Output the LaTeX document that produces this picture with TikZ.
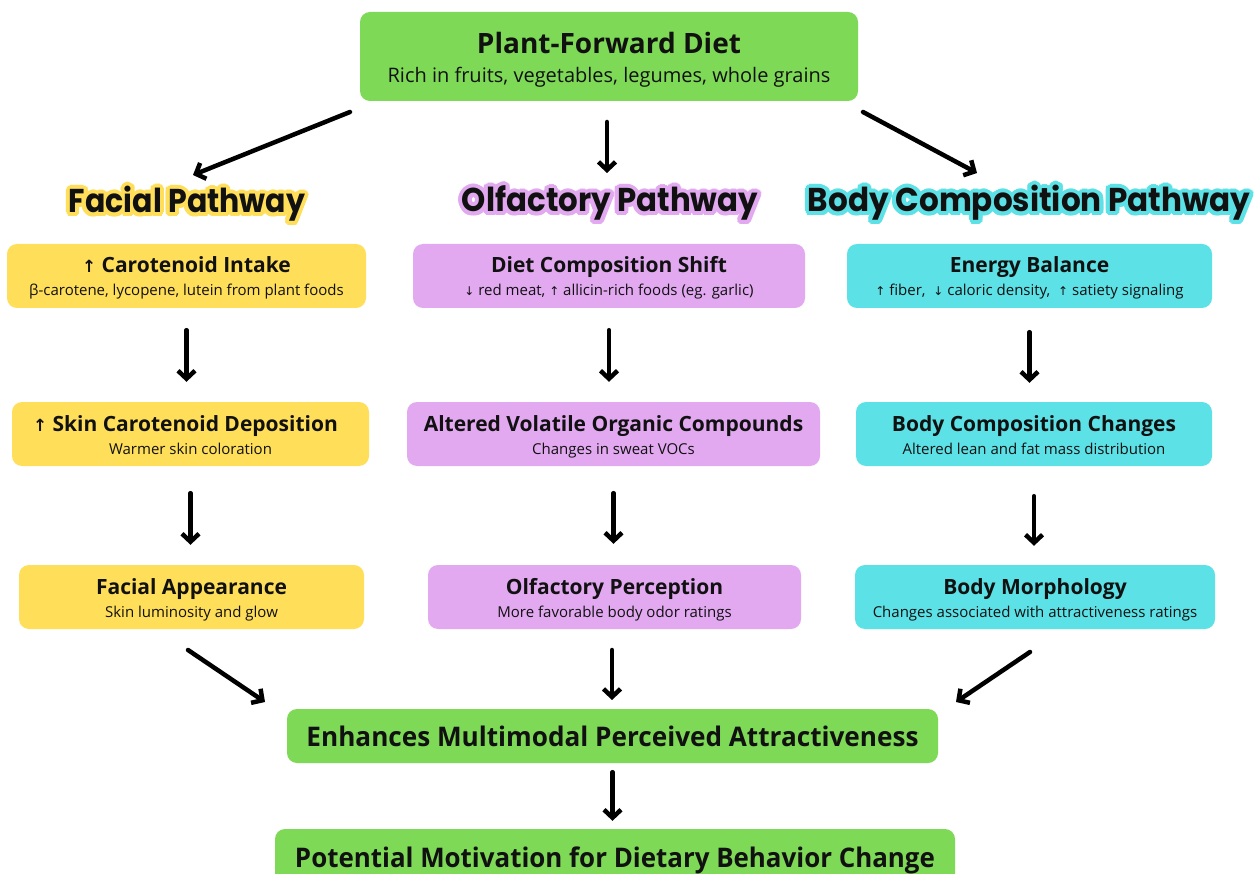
\documentclass[tikz,border=0pt]{standalone}
\usepackage{fontspec}
\setmainfont{Open Sans}
\newfontfamily\headfont{Poppins}
\newfontfamily\symf{DejaVu Sans}
\usetikzlibrary{arrows.meta}
\definecolor{cgreen}{HTML}{7ED957}
\definecolor{cyellow}{HTML}{FFDE59}
\definecolor{cpurple}{HTML}{E2A9F1}
\definecolor{ccyan}{HTML}{5CE1E6}
\definecolor{ink}{HTML}{111111}
\newcommand\up{{\symf\scalebox{0.8}{↑}}}
\newcommand\dn{{\symf\scalebox{0.8}{↓}}}
\newcommand\bup{{\symf\bfseries\scalebox{0.8}{↑}}}
\newcommand\fitw[2]{\resizebox{#1}{\height}{#2}}
\tikzset{
  box/.style={rounded corners=10pt, inner sep=0pt, minimum height=64pt},
  fbox/.style={box, fill=cyellow},
  obox/.style={box, fill=cpurple},
  bbox/.style={box, fill=ccyan},
  gbox/.style={box, fill=cgreen},
  ttl/.style={anchor=base, inner sep=0pt, text=ink, font=\bfseries\fontsize{21}{24}\selectfont},
  sub/.style={anchor=base, inner sep=0pt, text=ink, font=\fontsize{15}{18}\selectfont},
  head/.style={anchor=base, inner sep=0pt, text=ink, font=\headfont\bfseries\fontsize{33}{36}\selectfont},
  btxt/.style={anchor=base, inner sep=0pt, text=ink, font=\bfseries\fontsize{27}{30}\selectfont},
  arr/.style={line width=4.5pt, line cap=round, line join=round, -{Straight Barb[length=8pt,width=17pt]}}
}
% name, x, y, colour, text
\newcommand\headline[5]{%
  \foreach \a in {0,15,...,345}{\node[head, text=#4] at ([shift={(\a:4pt)}]#2,#3) {#5};}
  \node[head] (#1) at (#2,#3) {#5};}
\begin{document}
\begin{tikzpicture}[x=1pt,y=-1pt]
\useasboundingbox (0,0) rectangle (1258,874);
\clip (0,0) rectangle (1258,874);
\fill[white] (0,0) rectangle (1258,874);

% top
\node[gbox, minimum width=498pt, minimum height=89pt] (top) at (609,56.5) {};
\node[ttl, font=\bfseries\fontsize{28}{32}\selectfont] (topt) at ([yshift=2.5pt]top.center) {Plant-Forward Diet};
\node[sub, font=\fontsize{20}{23}\selectfont] (tops) at ([yshift=-26pt]top.center) {Rich in fruits, vegetables, legumes, whole grains};

% headings
\headline{hF}{187}{213}{cyellow}{\fitw{236pt}{Facial Pathway}}
\headline{hO}{610}{212}{cpurple}{\fitw{296pt}{Olfactory Pathway}}
\headline{hB}{1029}{212}{ccyan}{\fitw{442pt}{Body Composition Pathway}}

% row 1
\node[fbox, minimum width=359pt] (F1) at (186.5,276) {};
\node[ttl] (F1t) at ([yshift=3pt]F1.center) {\bup\ Carotenoid Intake};
\node[sub] (F1s) at ([yshift=-20pt]F1.center) {β-carotene, lycopene, lutein from plant foods};
\node[obox, minimum width=392pt] (O1) at (609,276) {};
\node[ttl] (O1t) at ([yshift=3pt]O1.center) {Diet Composition Shift};
\node[sub] (O1s) at ([yshift=-20pt]O1.center) {\dn\ red meat, \up\ allicin-rich foods (eg. garlic)};
\node[bbox, minimum width=365pt] (B1) at (1029.5,276) {};
\node[ttl] (B1t) at ([yshift=3pt]B1.center) {Energy Balance};
\node[sub] (B1s) at ([yshift=-20pt]B1.center) {\up\ fiber,\ \ \dn\ caloric density,\ \ \up\ satiety signaling};

% row 2
\node[fbox, minimum width=357pt] (F2) at (190.5,434) {};
\node[ttl] (F2t) at ([yshift=3pt,xshift=-5pt]F2.center) {\bup\ Skin Carotenoid Deposition};
\node[sub] (F2s) at ([yshift=-20pt]F2.center) {Warmer skin coloration};
\node[obox, minimum width=413pt] (O2) at (613.5,434) {};
\node[ttl] (O2t) at ([yshift=3pt]O2.center) {Altered Volatile Organic Compounds};
\node[sub] (O2s) at ([yshift=-20pt]O2.center) {Changes in sweat VOCs};
\node[bbox, minimum width=356pt] (B2) at (1034,434) {};
\node[ttl] (B2t) at ([yshift=3pt]B2.center) {Body Composition Changes};
\node[sub] (B2s) at ([yshift=-20pt]B2.center) {Altered lean and fat mass distribution};

% row 3
\node[fbox, minimum width=345pt] (F3) at (191.5,597) {};
\node[ttl] (F3t) at ([yshift=3pt]F3.center) {Facial Appearance};
\node[sub] (F3s) at ([yshift=-20pt]F3.center) {Skin luminosity and glow};
\node[obox, minimum width=373pt] (O3) at (614.5,597) {};
\node[ttl] (O3t) at ([yshift=3pt]O3.center) {Olfactory Perception};
\node[sub] (O3s) at ([yshift=-20pt]O3.center) {More favorable body odor ratings};
\node[bbox, minimum width=360pt] (B3) at (1035,597) {};
\node[ttl] (B3t) at ([yshift=3pt]B3.center) {Body Morphology};
\node[sub] (B3s) at ([yshift=-20pt]B3.center) {Changes associated with attractiveness ratings};

% bottom
\node[gbox, minimum width=651pt, minimum height=54pt] (E) at (612.5,736) {};
\node[btxt] (Et) at ([yshift=-10pt]E.center) {\fitw{612pt}{Enhances Multimodal Perceived Attractiveness}};
\node[gbox, minimum width=680pt, minimum height=64pt] (P) at (615,861) {};
\node[btxt] (Pt) at ([yshift=-6pt]P.center) {\fitw{640pt}{Potential Motivation for Dietary Behavior Change}};

% arrow end points
\coordinate (tl0) at (350,112); \coordinate (tl1) at (193,175);
\coordinate (tc0) at (607,122); \coordinate (tc1) at (607,173);
\coordinate (tr0) at (863,112); \coordinate (tr1) at (977,173);
\coordinate (bl0) at (188,650); \coordinate (bl1) at (265,702);
\coordinate (bc0) at (612,650); \coordinate (bc1) at (612,700);
\coordinate (br0) at (1030,652); \coordinate (br1) at (956,702);

\draw[arr] (tl0) -- (tl1);
\draw[arr] (tc0) -- (tc1);
\draw[arr] (tr0) -- (tr1);
\draw[arr, shorten <=22pt, shorten >=20pt] (F1.south) -- (F1.south |- F2.north);
\draw[arr, shorten <=22pt, shorten >=20pt] (O1.south) -- (O1.south |- O2.north);
\draw[arr, shorten <=24pt, shorten >=19pt] (B1.south) -- (B1.south |- B2.north);
\draw[arr, shorten <=27pt, shorten >=20pt] (F2.south) -- (F2.south |- F3.north);
\draw[arr, shorten <=27pt, shorten >=21pt] (O2.south) -- (O2.south |- O3.north);
\draw[arr, shorten <=30pt, shorten >=19pt] (B2.south) -- (B2.south |- B3.north);
\draw[arr] (bl0) -- (bl1);
\draw[arr] (bc0) -- (bc1);
\draw[arr] (br0) -- (br1);
\draw[arr, shorten <=9pt, shorten >=8pt] (E.south) -- (E.south |- P.north);
\end{tikzpicture}
\end{document}
